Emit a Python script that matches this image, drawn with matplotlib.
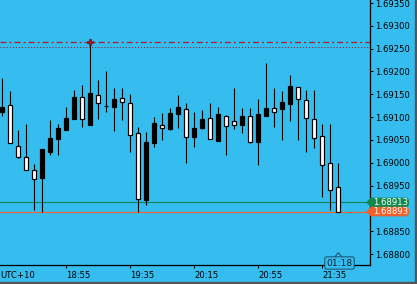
import matplotlib
matplotlib.use("Agg")
import matplotlib.pyplot as plt
import matplotlib.transforms as mtransforms
from matplotlib.patches import Polygon, Rectangle
import numpy as np
import pandas as pd

# 5-minute bars (first bar 18:15, UTC+10)
opens = [1.69111, 1.69127, 1.69037, 1.69013, 1.68984, 1.68967, 1.69024, 1.69052,
         1.69072, 1.69096, 1.69144, 1.69083, 1.69148, 1.69124, 1.69123, 1.69142,
         1.69131, 1.69065, 1.68918, 1.69043, 1.69083, 1.69074, 1.69107, 1.69118,
         1.69056, 1.69076, 1.69098, 1.69048, 1.69102, 1.69091, 1.69083, 1.69102,
         1.69045, 1.69102, 1.69120, 1.69118, 1.69129, 1.69166, 1.69138, 1.69096,
         1.69059, 1.68999, 1.68946]
highs = [1.69186, 1.69157, 1.69072, 1.69085, 1.68997, 1.69030, 1.69094, 1.69085,
         1.69122, 1.69159, 1.69170, 1.69264, 1.69181, 1.69201, 1.69164, 1.69164,
         1.69151, 1.69078, 1.69067, 1.69100, 1.69109, 1.69120, 1.69148, 1.69131,
         1.69111, 1.69116, 1.69131, 1.69122, 1.69105, 1.69164, 1.69120, 1.69120,
         1.69140, 1.69219, 1.69164, 1.69157, 1.69192, 1.69166, 1.69159, 1.69159,
         1.69085, 1.69085, 1.68999]
lows = [1.69103, 1.69043, 1.69011, 1.68984, 1.68896, 1.68892, 1.69017, 1.69017,
        1.69072, 1.69096, 1.69079, 1.69083, 1.69096, 1.69111, 1.69070, 1.69094,
        1.69024, 1.68891, 1.68908, 1.69035, 1.69050, 1.69072, 1.69076, 1.68999,
        1.69035, 1.69074, 1.69052, 1.69048, 1.69017, 1.69074, 1.69065, 1.69043,
        1.68995, 1.69102, 1.69078, 1.69050, 1.69091, 1.69050, 1.69024, 1.69032,
        1.68926, 1.68896, 1.68892]
closes = [1.69122, 1.69044, 1.69013, 1.68985, 1.68964, 1.69030, 1.69054, 1.69076,
          1.69098, 1.69144, 1.69095, 1.69153, 1.69130, 1.69124, 1.69140, 1.69132,
          1.69061, 1.68921, 1.69045, 1.69087, 1.69077, 1.69109, 1.69122, 1.69057,
          1.69076, 1.69096, 1.69052, 1.69107, 1.69081, 1.69083, 1.69102, 1.69045,
          1.69107, 1.69120, 1.69112, 1.69133, 1.69168, 1.69140, 1.69097, 1.69055,
          1.68996, 1.68941, 1.68893]

time_ticks = ["18:55", "19:35", "20:15", "20:55", "21:35"]
price_ticks = [1.68800, 1.68850, 1.68950, 1.69000, 1.69050, 1.69100,
               1.69150, 1.69200, 1.69250, 1.69300, 1.69350]
day_high = 1.69264
dotted_level = 1.69253
ask = 1.68913
bid = 1.68893
countdown = "01:18"

bar_times = list(pd.date_range("18:15", periods=len(opens), freq="5min").strftime("%H:%M"))

BG = "#35BDF0"
W, H = 417, 284
LW = 0.72  # one pixel, in points
FS = 6.1
plt.rcParams["lines.scale_dashes"] = False

fig = plt.figure(figsize=(W / 100, H / 100), dpi=100, facecolor=BG)
ax = fig.add_axes([0, 19 / H, 370 / W, 265 / H], facecolor=BG)
ax.set_xlim(-0.29, 45.96)
ax.set_ylim(1.687759, 1.693566)
ypx = (1.693566 - 1.687759) / 265
xpx = 1 / 370

x = np.arange(len(opens))
o = np.array(opens)
c = np.array(closes)
up = c >= o

# candles (black = up, white = down)
ax.vlines(x, lows, highs, color="black", linewidth=LW * 1.1, zorder=3)
ax.bar(x, np.abs(c - o), bottom=np.minimum(o, c), width=0.5,
       color=np.where(up, "black", "white"), edgecolor="black",
       linewidth=LW * 1.2, zorder=4)

# levels
ax.axhline(day_high, color="#B01E28", linewidth=LW * 1.3, linestyle=(0, (4.3, 2.2, 1.4, 2.2)), zorder=2)
ax.axhline(dotted_level, color="#8E2028", linewidth=LW, linestyle=(0, (0.8, 1.4)), zorder=2)
ax.axhline(ask, color="#13865A", linewidth=LW * 1.2, zorder=2)
ax.axhline(bid, color="#F0642D", linewidth=LW * 1.2, zorder=2)
ax.plot(int(np.argmax(highs)), day_high, marker="P", ms=4.5, color="#A01C1C",
        mec="#6A1010", mew=0.5, zorder=6)

# axes
for side in ["top", "left"]:
    ax.spines[side].set_visible(False)
for side in ["right", "bottom"]:
    ax.spines[side].set_linewidth(LW * 1.3)
    ax.spines[side].set_color("black")

ax.yaxis.tick_right()
ax.set_yticks(price_ticks)
ax.set_yticklabels([f"{v:.5f}" for v in price_ticks])
ax.tick_params(axis="y", direction="out", length=3 * LW, width=LW, pad=1.5, labelsize=FS)

tick_pos = [bar_times.index(t) for t in time_ticks]
ax.set_xticks(tick_pos)
ax.set_xticklabels(time_ticks)
ax.tick_params(axis="x", direction="out", length=3 * LW, width=LW, pad=2, labelsize=FS)
for lab in ax.get_xticklabels():
    lab.set_ha("left")
ax.text(0.0, -6 / 265, "UTC+10", transform=ax.transAxes, ha="left", va="top",
        fontsize=FS, clip_on=False)

# price tags on the axis
tag_tf = mtransforms.blended_transform_factory(ax.transAxes, ax.transData)


def price_tag(price, color):
    hy = 4.8 * ypx
    pts = [(366 * xpx, price), (371 * xpx, price + hy), (407 * xpx, price + hy),
           (409 * xpx, price + hy * 0.5), (409 * xpx, price - hy * 0.5),
           (407 * xpx, price - hy), (371 * xpx, price - hy)]
    ax.add_patch(Polygon(pts, closed=True, transform=tag_tf, facecolor=color,
                         edgecolor="none", clip_on=False, zorder=7))
    ax.text(373 * xpx, price, f"{price:.5f}", transform=tag_tf, ha="left", va="center",
            color="white", fontsize=FS, clip_on=False, zorder=8)


price_tag(ask, "#0F8A4C")
price_tag(bid, "#F0602A")

# countdown box under the last bar
cd_tf = mtransforms.blended_transform_factory(ax.transData, ax.transAxes)
last = len(opens) - 1
ax.plot([last - 0.45, last, last + 0.45], [8 / 265, 12.3 / 265, 8 / 265], color="#1C4F6B",
        linewidth=LW, transform=cd_tf, clip_on=False, zorder=8)
ax.text(last + 0.15, 2 / 265, countdown, transform=cd_tf, ha="center", va="center",
        fontsize=6.6, color="#0A1E2E", clip_on=False, zorder=9,
        bbox=dict(boxstyle="round,pad=0.18,rounding_size=0.2", fc=BG, ec="#1C4F6B", lw=LW))

# window frame
fig.patches.append(Rectangle((0, 0), 1, 2 / H, transform=fig.transFigure, color="#555555", zorder=10))
fig.patches.append(Rectangle((1 - 2.5 / W, 0), 2.5 / W, 1, transform=fig.transFigure, color="#555555", zorder=10))

fig.savefig("out.png", dpi=100, facecolor=BG)
